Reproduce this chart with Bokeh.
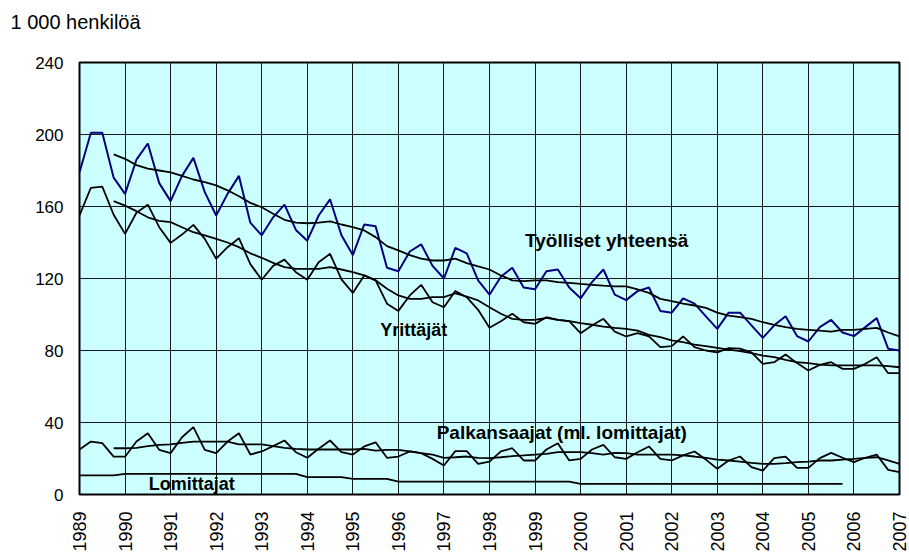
import math
from bokeh.plotting import figure
from bokeh.models import Range1d, FixedTicker, Label, Title
from bokeh.embed import file_html
from bokeh.resources import INLINE

# ---- data (1 000 persons, quarterly from 1989 Q1) ----
start_year = 1989
years = list(range(1989, 2008))
year_labels = [str(y) for y in years]
y_ticks = [0, 40, 80, 120, 160, 200, 240]

tyolliset = [179, 201, 201, 176,
             167, 186, 195, 173,
             163, 177, 187, 168,
             155, 167, 177, 151,
             144, 154, 161, 147,
             141, 155, 164, 144,
             133, 150, 149, 126,
             124, 135, 139, 127,
             120, 137, 134, 119,
             111, 121, 126, 115,
             114, 124, 125, 115,
             109, 118, 125, 111,
             108, 113, 115, 102,
             101, 109, 106, 99,
             92, 101, 101, 94,
             87, 94, 99, 88,
             85, 93, 97, 90,
             88, 93, 98, 81,
             80]

# trends start at 1989 Q4
tyolliset_trend = [189, 186.5, 183, 181, 180, 179, 177, 175, 173.5, 171.7, 169,
                   165.7, 162, 159.6, 156, 152.6, 151, 150.7, 151, 151.7, 150, 148.5,
                   146.7, 143, 138, 135.6, 133, 131, 130, 130, 131, 128.5, 126.7, 125,
                   121.7, 119, 118.5, 119, 119, 118, 117.6, 117, 116.5, 116, 115.6, 115.6,
                   114, 112, 108.7, 107.4, 106, 105, 103.7, 101, 99.4, 98.5, 97.6, 95.7,
                   94.3, 93, 92, 91.5, 91, 90.5, 91.5, 91.5, 92, 92.6, 90, 87.8]

yrittajat = [155, 170.4, 171, 155.4,
             144.8, 156.5, 161, 148.5,
             139.8, 144.4, 149.8, 142,
             131, 137.4, 142.4, 128,
             119.3, 127, 130.5, 123.5,
             119.3, 129, 133.7, 119.5,
             112, 121.7, 119, 106,
             102, 110.6, 116.5, 106.8,
             104, 113, 109.6, 102.6,
             92.6, 96.3, 100.4, 95.7,
             94.8, 98.5, 97, 96.3,
             89.6, 93.9, 97.6, 90.5,
             87.8, 89.6, 87.8, 81.9,
             82.4, 87.8, 81.9, 80,
             79, 81.3, 81, 79,
             72.6, 73.5, 77.8, 73,
             68.9, 72, 73.5, 69.8,
             69.8, 72.6, 76.3, 67.4,
             67.4]

yrittajat_trend = [163, 160.5, 157.4, 154, 152, 151.3, 148.5, 145.7, 144, 142, 140,
                   137.4, 134, 131.5, 128.7, 126.3, 125.4, 125.4, 125.4, 126.3, 125, 123.5,
                   121.7, 119, 114.3, 110.6, 108.7, 108.7, 109.6, 109.6, 111.8, 110, 107.8,
                   104, 100.4, 97.6, 97, 97, 98.1, 97, 96.3, 95.2, 94.3, 93.3, 92.6, 92,
                   91, 88.7, 87.4, 85.6, 84.6, 83.3, 82.4, 81.5, 80.5, 79.6, 78.5, 77.2,
                   76.3, 74.8, 73.5, 73, 72.2, 71.7, 71.7, 71.7, 71.7, 71.7, 71.3, 70.7]

palkansaajat = [25, 29.4, 28.5, 21,
                21, 29.4, 34, 24.8,
                23, 31.8, 37.4, 24.8,
                23, 29.4, 34, 22.2,
                23.9, 26.9, 30, 23.5,
                20.4, 25.4, 30, 23.5,
                22.2, 26.7, 29, 20.4,
                21.1, 23.9, 23, 19.8,
                16.1, 24.1, 24.1, 17,
                18.3, 24, 25.7, 18.9,
                18.9, 25, 28.5, 18.9,
                19.8, 25, 27.6, 20.7,
                19.8, 23.5, 26.7, 19.8,
                18.9, 21.7, 23.9, 19.4,
                14.3, 18.9, 21.1, 15.2,
                13.3, 20.2, 21.1, 14.8,
                14.8, 20.2, 23.1, 20.4,
                18, 20.4, 22.2, 13.7,
                12.4]

palkansaajat_trend = [25.7, 25.7, 25.9, 26.9, 27.6, 27.8, 28.7, 29.4, 29.4, 29.4, 29.4,
                      27.8, 27.8, 27.8, 26.9, 25.9, 25.4, 25, 25, 25, 25, 25,
                      25.4, 24.4, 24.8, 24.8, 23.9, 23, 22.2, 20.4, 20.7, 21.1, 20.4, 20.2,
                      20.7, 21.3, 21.7, 22.2, 22.6, 23.5, 23.5, 23.5, 23, 22.2, 23.1, 23,
                      22.2, 22.2, 22.2, 22.2, 21.7, 21.1, 20.4, 19.4, 18.9, 18.3, 17.6, 17,
                      17, 17.4, 18, 18.3, 18.9, 18.9, 19.4, 19.8, 20.4, 20.7, 18.9, 17]

# annual values 1989-2005, same in every quarter of the year
lomittajat_annual = [10.6, 11.5, 11.5, 11.5, 11.5, 9.6, 8.7, 7.2, 7.2, 7.2, 7.2,
                     5.9, 5.9, 5.9, 5.9, 5.9, 5.9]

# ---- derived x positions ----
def qx(n, first=0):
    return [start_year + (first + k) / 4 for k in range(n)]

lomittajat = [v for v in lomittajat_annual for _ in range(4)]

FONT = "Liberation Sans"

p = figure(width=909, height=554, output_backend="svg", toolbar_location=None,
           x_range=Range1d(1989, 2007), y_range=Range1d(0, 240),
           min_border_left=79, min_border_right=10, min_border_top=62,
           min_border_bottom=60)

# spacer panel next to the frame, then the unit text above it
p.add_layout(Title(text=" ", text_font=FONT, text_font_size="10px", standoff=15), "above")
p.add_layout(Title(text="1 000 henkilöä", text_font=FONT, text_font_size="20px",
                   text_font_style="normal", text_color="black", align="left",
                   vertical_align="top", offset=-69, standoff=0), "above")

p.background_fill_color = "#CCFFFF"
p.border_fill_color = "white"
p.outline_line_color = "black"
p.outline_line_width = 2

# grid
p.xgrid.ticker = FixedTicker(ticks=years)
p.ygrid.ticker = FixedTicker(ticks=y_ticks)
for g in (p.xgrid, p.ygrid):
    g.grid_line_color = "black"
    g.grid_line_width = 1
    g.grid_line_alpha = 0.9

# axes
p.xaxis.ticker = FixedTicker(ticks=years)
p.xaxis.major_label_overrides = {y: l for y, l in zip(years, year_labels)}
p.xaxis.major_label_orientation = math.pi / 2
p.yaxis.ticker = FixedTicker(ticks=y_ticks)
for ax in (p.xaxis, p.yaxis):
    ax.axis_line_color = None
    ax.major_tick_line_color = None
    ax.minor_tick_line_color = None
    ax.major_tick_out = 0
    ax.major_tick_in = 0
    ax.major_label_text_font = FONT
    ax.major_label_text_color = "black"
p.yaxis.major_label_text_font_size = "17px"
p.yaxis.major_label_standoff = 16
p.xaxis.major_label_text_font_size = "18px"
p.xaxis.major_label_standoff = 17

# lines
lw = 1.8
p.line(qx(len(tyolliset)), tyolliset, line_color="#000080", line_width=2)
p.line(qx(len(tyolliset_trend), 3), tyolliset_trend, line_color="black", line_width=lw)
p.line(qx(len(yrittajat)), yrittajat, line_color="black", line_width=lw)
p.line(qx(len(yrittajat_trend), 3), yrittajat_trend, line_color="black", line_width=lw)
p.line(qx(len(palkansaajat)), palkansaajat, line_color="black", line_width=lw)
p.line(qx(len(palkansaajat_trend), 3), palkansaajat_trend, line_color="black", line_width=lw)
p.line(qx(len(lomittajat)), lomittajat, line_color="black", line_width=lw)

# series labels
def lab(x, y, t, size):
    p.add_layout(Label(x=x, y=y, text=t, text_font=FONT, text_font_style="bold",
                       text_font_size=size, text_color="black",
                       text_baseline="alphabetic", text_align="left"))

lab(1998.78, 141.0, "Työlliset yhteensä", "19px")
lab(1995.60, 91.4, "Yrittäjät", "18px")
lab(1996.84, 34.2, "Palkansaajat (ml. lomittajat)", "19px")
lab(1990.52, 6.0, "Lomittajat", "18px")

open("out.html", "w").write(file_html(p, INLINE))
